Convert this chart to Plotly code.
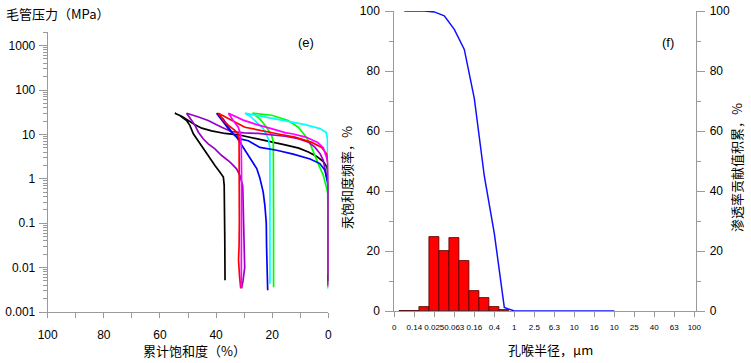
import plotly.graph_objects as go

W, H = 751, 363

# ---------------- Panel (e): capillary pressure curves ----------------
# each curve: saturation (%) and capillary pressure (MPa), injection then withdrawal
black_sat = [0, 0, 0.3, 0.6, 1.8, 4.1, 7.1, 10.5, 15.4, 20.2, 25, 28.5, 32.1, 36.8, 41.6, 45.1, 47.5, 49.9, 52.3, 54.7,
             52.9, 50.5, 49.3, 48.1, 46.9, 45.1, 44.0, 42.2, 40.4, 38.6, 37.4, 37.1, 37.0, 36.9, 36.8]
black_pc = [0.005, 1.0, 1.6, 1.9, 2.45, 3.2, 4.0, 4.9, 5.8, 6.7, 7.8, 8.9, 9.8, 10.5, 12.0, 13.8, 16.4, 20.5, 25.5, 30,
            26.7, 20.5, 15.8, 10.3, 7.96, 5.6, 4.34, 2.82, 1.99, 1.41, 1.09, 0.71, 0.3, 0.05, 0.0052]

purple_sat = [0, 0, 0.6, 1.2, 1.8, 2.9, 4.7, 7.1, 10.7, 15.4, 20.2, 25, 30, 34.4, 38, 42.8, 46.5, 50.5,
              48.7, 47.5, 46.3, 44.6, 42.8, 40.4, 38.0, 35.0, 32.7, 31.5, 30.5, 30.3, 30.0, 29.8, 30.4, 30.9]
purple_pc = [0.005, 0.8, 1.1, 1.7, 2.6, 3.65, 5.1, 6.7, 8.0, 9.1, 9.8, 10.5, 10.8, 11.5, 14.5, 20.5, 25, 30,
             20.5, 15.9, 11.2, 7.95, 6.1, 4.73, 3.35, 2.37, 1.68, 1.19, 0.7, 0.1, 0.02, 0.01, 0.005, 0.0034]

blue_sat = [0, 0, 0.3, 0.6, 1.2, 3.0, 6.5, 12.5, 18.4, 24.4, 28.5, 31.5, 33.9, 35.6, 37.4, 39.8,
            37.4, 35.0, 32.7, 30.3, 27.9, 25.5, 24.4, 23.2, 22.6, 22.1, 22.0, 21.8, 21.6]
blue_pc = [0.004, 0.6, 0.85, 1.0, 1.55, 2.2, 2.8, 3.6, 4.4, 5.1, 7.2, 7.9, 10.2, 14.5, 22, 30,
           19, 12, 8.7, 5.1, 3.0, 1.7, 1.05, 0.5, 0.25, 0.1, 0.03, 0.01, 0.0031]

red_sat = [0, 0, 0.2, 0.6, 2.35, 5.9, 11.9, 17.8, 23.7, 29.7, 32.1, 35.6, 39.2,
           37.4, 35.6, 33.3, 32.1, 31.8, 31.7, 31.7, 31.8, 32.0, 31.6, 31.2]
red_pc = [0.0036, 2.0, 2.35, 3.6, 5.1, 6.6, 8.7, 10.2, 12.3, 14.5, 17.4, 22.4, 30,
          20.5, 15.9, 12.3, 10.2, 8.0, 1.0, 0.1, 0.03, 0.015, 0.006, 0.0034]

magenta_sat = [0, 0, 0.6, 1.8, 3.8, 8.0, 12.5, 15.4, 18.4, 22.6, 26, 30.3, 33, 35.6,
               33.9, 32.1, 31.3, 31.0, 30.9, 30.9, 30.9, 31.0]
magenta_pc = [0.0072, 2.0, 3.0, 5.0, 6.6, 8.7, 10.2, 11.0, 12.5, 14.5, 17, 21, 25, 30,
              20.5, 14.5, 10.2, 5.0, 1.0, 0.1, 0.01, 0.0035]

cyan_sat = [0, 0.2, 0.3, 0.8, 3.0, 8.3, 15.4, 22.6, 26, 29.7,
            28, 26.1, 23.2, 21.4, 20.8, 20.8, 20.8, 20.8]
cyan_pc = [0.0033, 5, 8.0, 11.2, 13.5, 16.6, 20.4, 24.5, 27, 30,
           26, 20.5, 13.5, 8.0, 4.8, 1.0, 0.1, 0.0043]

green_sat = [0, 0, 0.4, 0.9, 1.8, 3.6, 5.3, 6.5, 8.3, 10.7, 14.3, 20.2, 27.0,
             24.4, 22.0, 20.2, 19.6, 19.5, 19.5, 19.5]
green_pc = [0.005, 0.4, 0.55, 0.7, 1.2, 2.2, 4.0, 6.2, 9.5, 14.5, 20.5, 27, 30,
            22.4, 14.5, 9.5, 6.6, 2.0, 0.1, 0.0036]

curves = [
    (black_sat, black_pc, "#000000"),
    (green_sat, green_pc, "#00FF00"),
    (cyan_sat, cyan_pc, "#00FFFF"),
    (purple_sat, purple_pc, "#9900CC"),
    (blue_sat, blue_pc, "#0000FF"),
    (red_sat, red_pc, "#FF0000"),
    (magenta_sat, magenta_pc, "#FF00FF"),
]

# ---------------- Panel (f): pore-throat distribution ----------------
radius_labels = ["0", "0.14", "0.025", "0.063", "0.16", "0.4", "1", "2.5", "6.3",
                 "10", "16", "10", "25", "40", "63", "100"]
bar_pos = [0.5, 1.0, 1.5, 2.0, 2.5, 3.0, 3.5, 4.0, 4.5, 5.0, 5.5]
freq = [0, 0, 1.3, 24.6, 20.0, 24.3, 16.6, 6.6, 4.4, 1.3, 0.3]
line_pos = [0.5, 1.0, 1.5, 2.0, 2.5, 3.0, 3.5, 4.0, 4.5, 5.0, 5.5, 6.0, 6.5, 7.0, 7.5, 8.0,
            8.5, 9.0, 9.5, 10.0, 10.5, 11.0]
perm_cum = [100, 100, 100, 99.7, 98.4, 93.9, 87.2, 70.9, 45.0, 25.9, 1.2, 0, 0, 0, 0, 0,
            0, 0, 0, 0, 0, 0]

fig = go.Figure()
for sx, py, col in curves:
    fig.add_trace(go.Scatter(x=sx, y=py, mode="lines", line=dict(color=col, width=1.7),
                             xaxis="x", yaxis="y", showlegend=False, hoverinfo="skip"))

fig.add_trace(go.Bar(x=bar_pos, y=freq, width=0.5, marker=dict(color="#FF0000",
                     line=dict(color="#4a0000", width=0.8)),
                     xaxis="x2", yaxis="y2", showlegend=False))
fig.add_trace(go.Scatter(x=line_pos, y=perm_cum, mode="lines", line=dict(color="#1010FF", width=1.5),
                         xaxis="x2", yaxis="y3", showlegend=False))

AX = "#9a9a9a"
tickfont = dict(family="Arial, Liberation Sans", size=12, color="#000000")
cjk = "Noto Sans CJK SC"


def px(x):
    return x / W


def py_(y):
    return 1 - y / H


common = dict(showgrid=False, zeroline=False, showline=True, linecolor=AX, linewidth=1,
              ticks="outside", tickcolor=AX, tickwidth=1, automargin=False)

fig.update_layout(
    template="none",
    width=W, height=H, margin=dict(l=0, r=0, t=0, b=0, pad=0),
    paper_bgcolor="white", plot_bgcolor="rgba(0,0,0,0)", bargap=0,
    font=dict(family="Arial, Liberation Sans", color="#000000"),
    xaxis=dict(domain=[px(47.7), px(328.3)], range=[100, 0], anchor="y",
               tickvals=[0, 20, 40, 60, 80, 100], ticklen=5, tickfont=tickfont, tickangle=0,
               ticklabelstandoff=7,
               minor=dict(tickvals=[10, 30, 50, 70, 90], ticklen=5, ticks="outside", tickcolor=AX),
               **common),
    yaxis=dict(domain=[py_(312), py_(31.7)], type="log", range=[-3, 3.313], anchor="x",
               dtick=1, ticklen=8, tickfont=tickfont, ticklabelstandoff=1,
               minor=dict(dtick="D1", ticklen=4, ticks="outside", tickcolor=AX),
               **common),
    xaxis2=dict(domain=[px(394.3), px(696.3)], range=[0, 15.1], anchor="y2",
                tickvals=list(range(len(radius_labels))), ticktext=radius_labels, tickangle=0,
                ticklen=5, ticklabelstandoff=3,
                tickfont=dict(family="Arial, Liberation Sans", size=8, color="#000"),
                **common),
    yaxis2=dict(domain=[py_(311), py_(11)], range=[0, 100], anchor="x2",
                dtick=20, ticklen=8, tickfont=tickfont, ticklabelstandoff=3,
                minor=dict(dtick=10, ticklen=4, ticks="outside", tickcolor=AX),
                **common),
    yaxis3=dict(domain=[py_(311), py_(11)], range=[0, 100], anchor="x2", overlaying="y2",
                side="right", dtick=20, ticklen=8, tickfont=tickfont, ticklabelstandoff=2,
                minor=dict(dtick=10, ticklen=4, ticks="outside", tickcolor=AX),
                **common),
)

ann = [
    dict(text="毛管压力（MPa）", x=px(4), y=py_(14), xanchor="left", yanchor="middle",
         font=dict(family=cjk, size=13)),
    dict(text="累计饱和度（%）", x=px(194), y=py_(350), xanchor="center", yanchor="middle",
         font=dict(family=cjk, size=13)),
    dict(text="(e)", x=px(306), y=py_(42), xanchor="center", yanchor="middle",
         font=dict(family="Arial, Liberation Sans", size=13)),
    dict(text="孔喉半径，μm", x=px(550), y=py_(349), xanchor="center", yanchor="middle",
         font=dict(family=cjk, size=13)),
    dict(text="汞饱和度频率，%", x=px(346), y=py_(178), xanchor="center", yanchor="middle",
         textangle=-90, font=dict(family=cjk, size=13)),
    dict(text="渗透率贡献值积累，%", x=px(736), y=py_(168), xanchor="center", yanchor="middle",
         textangle=-90, font=dict(family=cjk, size=13)),
    dict(text="(f)", x=px(668), y=py_(42), xanchor="center", yanchor="middle",
         font=dict(family="Arial, Liberation Sans", size=13)),
]
for a in ann:
    a.update(xref="paper", yref="paper", showarrow=False, font_color="#000000")
fig.update_layout(annotations=ann)

fig.write_html("out.html", config={"displayModeBar": False},
               post_script="document.body.style.margin='0';")
